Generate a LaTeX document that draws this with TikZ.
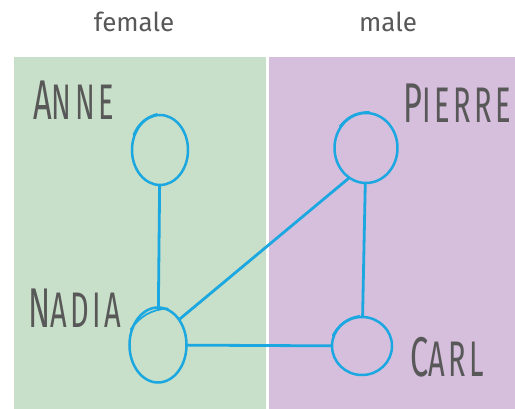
\documentclass[tikz,border=0pt]{standalone}
\usepackage{fontspec}
\setmainfont{Fira Sans}
\newfontfamily\namefont{Fira Sans}[FakeStretch=0.58,LetterSpace=7]
\usetikzlibrary{shapes.geometric}
\definecolor{sketchblue}{RGB}{27,167,224}
\definecolor{femalegreen}{RGB}{200,224,201}
\definecolor{malepurple}{RGB}{214,190,221}
\definecolor{inkgray}{RGB}{88,88,88}
\newcommand{\namecaps}[2]{{\fontsize{56}{60}\selectfont #1}{\fontsize{50}{54}\selectfont #2}}
\tikzset{
    person/.style={
        ellipse,
        draw=sketchblue,
        line width=2.5pt,
        inner sep=0pt
    },
    tie/.style={
        draw=sketchblue,
        line width=2.8pt,
        line cap=round
    },
    overstroke/.style={
        sketchblue,
        line width=1.8pt,
        line cap=round
    },
    personlabel/.style={
        anchor=base west,
        inner sep=0pt,
        text=inkgray,
        font=\namefont
    },
    header/.style={
        text=inkgray,
        font=\fontsize{26}{30}\selectfont
    }
}

\begin{document}
\begin{tikzpicture}[x=1pt,y=-1pt]

      \useasboundingbox (0,0) rectangle (515,409);
      \fill[femalegreen] (14,57) rectangle (266,409);
      \fill[malepurple] (269,57) rectangle (515,409);

      \node[header] (female) at (134,22) {female};
      \node[header] (male) at (388,22) {male};

      \node[person,minimum width=56pt,minimum height=70pt] (anne) at (160,150) {};
      \node[person,minimum width=63pt,minimum height=70pt] (pierre) at (366,148) {};
      \node[person,minimum width=57pt,minimum height=75pt] (nadia) at (158,345) {};
      \node[person,minimum width=60pt,minimum height=58pt] (carl) at (362,346) {};

      \node[personlabel] (annetext) at (33,120) {\namecaps{A}{NNE}};
      \node[personlabel] (pierretext) at (403,123) {\namecaps{P}{IERRE}};
      \node[personlabel] (nadiatext) at (28,327) {\namecaps{N}{ADIA}};
      \node[personlabel] (carltext) at (410,377) {\namecaps{C}{ARL}};

      % doubled strokes where the pen started
      \draw[overstroke] (anne.150) to[bend left=25] (anne.95);
      \draw[overstroke] (pierre.140) to[bend left=25] (pierre.85);
      \draw[overstroke] (nadia.150) to[bend left=25] (nadia.75);
      \draw[overstroke] (carl.160) to[bend left=25] (carl.95);

      \draw[tie] (anne) -- (nadia);
      \draw[tie] (pierre.240) -- (nadia.50);
      \draw[tie] (pierre) -- (carl);
      \draw[tie] (nadia) -- (carl);

    \end{tikzpicture}
\end{document}
